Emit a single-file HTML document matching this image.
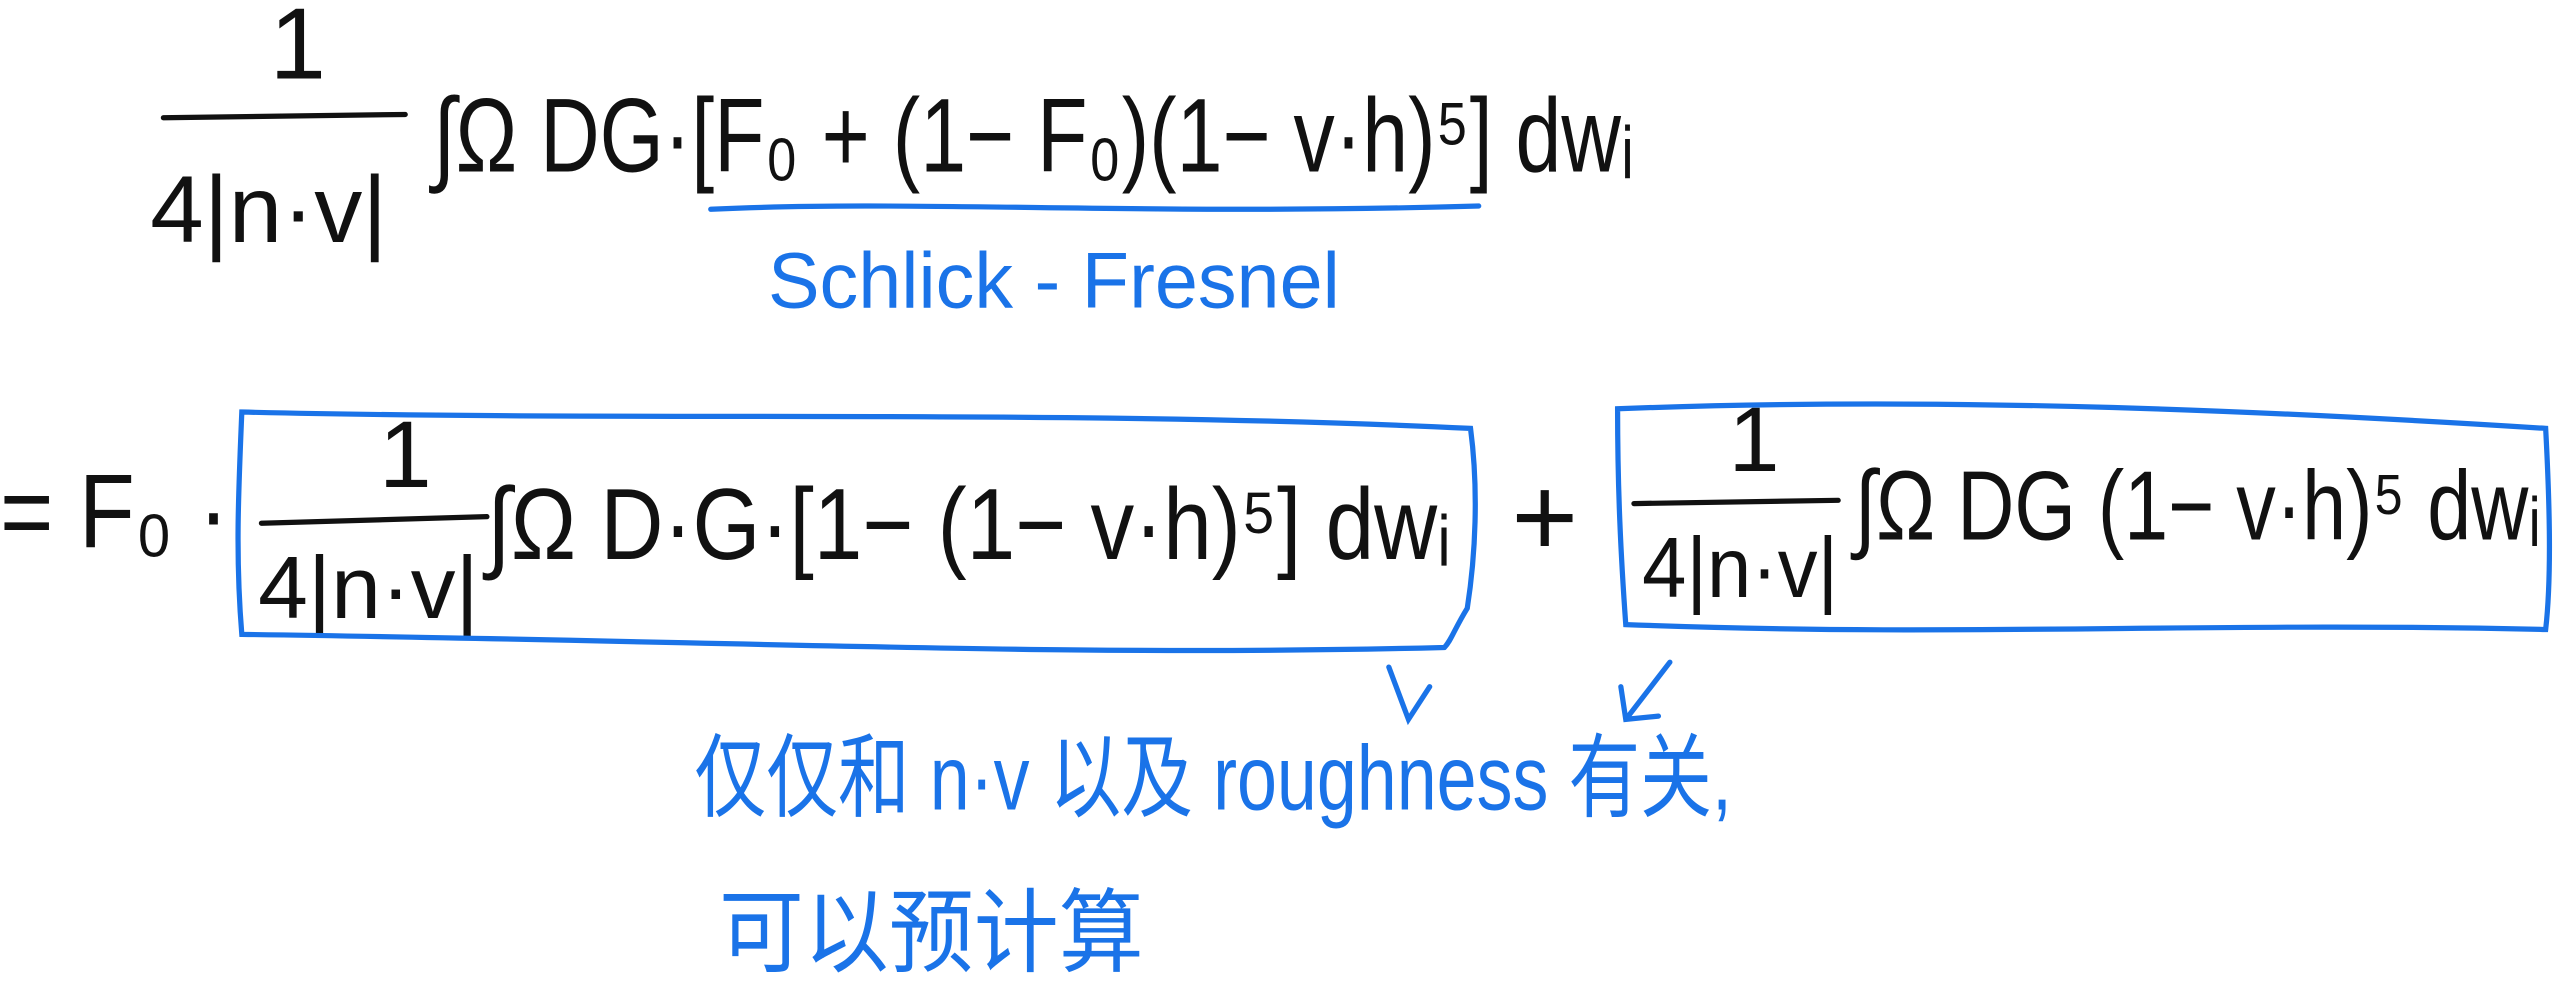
<!DOCTYPE html>
<html><head><meta charset="utf-8"><style>
html,body{margin:0;padding:0;background:#fff;}
svg{display:block;}
text{font-family:"Liberation Sans","Noto Sans CJK SC",sans-serif;}
</style></head><body>
<svg width="2562" height="999" viewBox="0 0 1568 611" preserveAspectRatio="none" xmlns="http://www.w3.org/2000/svg">
<g fill="#111" stroke="none">
  <text x="165" y="48" font-size="62">1</text>
  <text x="92" y="148" font-size="58" textLength="145" lengthAdjust="spacingAndGlyphs">4|n·v|</text>
  <text x="265" y="105" font-size="64" textLength="735" lengthAdjust="spacingAndGlyphs">∫Ω DG·[F₀ + (1− F₀)(1− v·h)⁵] dwᵢ</text>
  <text x="0" y="335" font-size="64" textLength="140" lengthAdjust="spacingAndGlyphs">= F₀ ·</text>
  <text x="232" y="298" font-size="58">1</text>
  <text x="158" y="378" font-size="54" textLength="135" lengthAdjust="spacingAndGlyphs">4|n·v|</text>
  <text x="298" y="342" font-size="62" textLength="590" lengthAdjust="spacingAndGlyphs">∫Ω D·G·[1− (1− v·h)⁵] dwᵢ</text>
  <text x="925" y="340" font-size="70">+</text>
  <text x="1058" y="288" font-size="56">1</text>
  <text x="1005" y="365" font-size="52" textLength="120" lengthAdjust="spacingAndGlyphs">4|n·v|</text>
  <text x="1135" y="330" font-size="60" textLength="420" lengthAdjust="spacingAndGlyphs">∫Ω DG (1− v·h)⁵ dwᵢ</text>
</g>
<g stroke="#111" stroke-width="3.2" fill="none" stroke-linecap="round">
  <path d="M100 72 L248 70"/>
  <path d="M160 320 L298 316"/>
  <path d="M1000 308 L1125 306"/>
</g>
<g stroke="#1a73e8" stroke-width="3.2" fill="none" stroke-linecap="round">
  <path d="M435 128 C560 122 700 132 905 126"/>
  <path d="M148 252 C400 258 650 250 900 262 C905 300 903 340 898 372 C890 385 888 392 884 396 C650 402 450 392 148 388 C144 340 146 300 148 252 Z"/>
  <path d="M990 250 C1200 242 1400 252 1558 262 C1560 300 1562 350 1558 385 C1350 380 1200 390 995 382 C992 340 990 300 990 250 Z"/>
  <path d="M850 408 L862 440 L875 420"/>
  <path d="M1022 405 L995 440 M992 420 L995 440 L1015 438"/>
</g>
<g fill="#1a73e8">
  <text x="470" y="188" font-size="48" textLength="350" lengthAdjust="spacingAndGlyphs">Schlick - Fresnel</text>
  <text x="425" y="495" font-size="56" textLength="635" lengthAdjust="spacingAndGlyphs">仅仅和 n·v 以及 roughness 有关,</text>
  <text x="440" y="590" font-size="56" textLength="260" lengthAdjust="spacingAndGlyphs">可以预计算</text>
</g>
</svg>
</body></html>
